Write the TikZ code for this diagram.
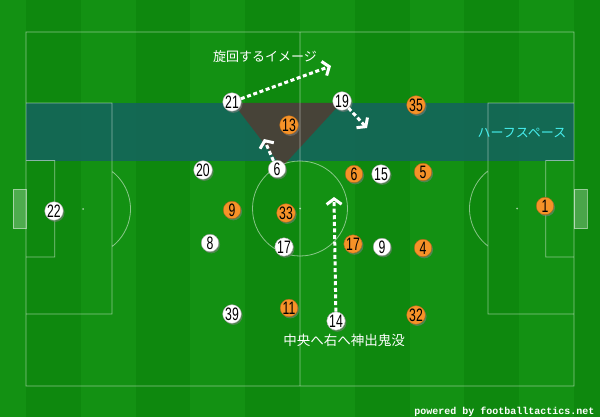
\documentclass[tikz,border=0pt]{standalone}
\usepackage{fontspec}
\newfontfamily\numfont[FakeStretch=0.68]{Liberation Sans}
\newfontfamily\jpfont{Noto Sans CJK JP}
\newfontfamily\wmfont{Liberation Mono}
\usetikzlibrary{arrows.meta,shadows}
\definecolor{turf}{RGB}{14,136,14}
\definecolor{turfb}{RGB}{19,145,19}
\definecolor{hspace}{RGB}{20,100,92}
\definecolor{zone}{RGB}{76,64,54}
\definecolor{away}{RGB}{246,146,40}
\definecolor{hscyan}{RGB}{70,238,238}
\begin{document}
\begin{tikzpicture}[x=1pt,y=-1pt,font=\numfont\fontsize{18}{18}\selectfont,
	pline/.style={draw=white,draw opacity=.5,line width=.8pt},
	player/.style={circle,minimum size=17.5pt,inner sep=0pt,line width=.4pt,
		drop shadow={shadow xshift=1.3pt,shadow yshift=-1.6pt,opacity=.55}},
	home/.style={player,fill=white,draw=black!35},
	away/.style={player,fill=away,draw=away!70!black},
	lbl/.style={white,font=\jpfont\fontsize{13}{13}\selectfont},
	move/.style={white,line width=3pt,dash pattern=on 4pt off 2.6pt,
		-{Straight Barb[length=5.5pt,width=15pt]}}]
	\useasboundingbox (0,0) rectangle (600,417);
	\fill[turf] (0,0) rectangle (600,417);
	\foreach \i in {-1,1,...,11}{\fill[turfb] ({26+\i*54.8},0) rectangle ++(54.8,417);}
	\fill[hspace,opacity=.88] (26,103) rectangle (574,161.5);
	\fill[zone,opacity=.92] (233,103) -- (341,103) -- (282,167) -- cycle;
	\draw[pline] (26,32) rectangle (574,386) (300,32) -- (300,386) (300,208.5) circle (47.5)
		(26,103) rectangle (112,314) (26,160.5) rectangle (54.7,257)
		(574,103) rectangle (488,314) (574,160.5) rectangle (545.7,257)
		(83,209) ++(-52.4:47.5) arc (-52.4:52.4:47.5)
		(517,208.5) ++(127.6:47.5) arc (127.6:232.4:47.5);
	\draw[pline,fill=white,fill opacity=.25] (13,189.5) rectangle (26,228.5) (574,189.5) rectangle (587,228.5);
	\fill[white,opacity=.6] (83,209) circle (1) (517,208.5) circle (1) (300,208.5) circle (1);
	\foreach \n/\p/\t in {w21/{(232,102)}/21, w19/{(342,101)}/19, w20/{(203,170)}/20, w6/{(277,169)}/6,
		w15/{(381,174)}/15, w22/{(54,211)}/22, w8/{(210,243)}/8, w17/{(284,247)}/17,
		w9/{(382,247)}/9, w39/{(232,314)}/39, w14/{(336,321)}/14}{
		\node[home] (\n) at \p {\t};
	}
	\foreach \n/\p/\t in {o35/{(416,105)}/35, o13/{(289,125)}/13, o6/{(354,174)}/6, o5/{(423,172)}/5,
		o9/{(232,210)}/9, o33/{(286,213)}/33, o17/{(353,244)}/17, o4/{(423,248)}/4,
		o1/{(545,206)}/1, o11/{(289,308)}/11, o32/{(416,315)}/32}{
		\node[away] (\n) at \p {\t};
	}
	\path (331,66) coordinate (t1) (367,128) coordinate (t2) (264,139) coordinate (t3) (334,197) coordinate (t4);
	\draw[move] (w21) -- (t1);
	\draw[move] (w19) -- (t2);
	\draw[move] (w6) -- (t3);
	\draw[move] (w14) -- (t4);
	\node[lbl] (turn) at (265,57) {旋回するイメージ};
	\node[lbl,font=\jpfont\fontsize{13.5}{13.5}\selectfont] (roam) at (344,340) {中央へ右へ神出鬼没};
	\node[lbl,text=hscyan] (half) at (522,133) {ハーフスペース};
	\node[white,anchor=base east,font=\wmfont\bfseries\fontsize{10}{10}\selectfont] (wm) at (598,414) {powered by footballtactics.net};
\end{tikzpicture}
\end{document}
